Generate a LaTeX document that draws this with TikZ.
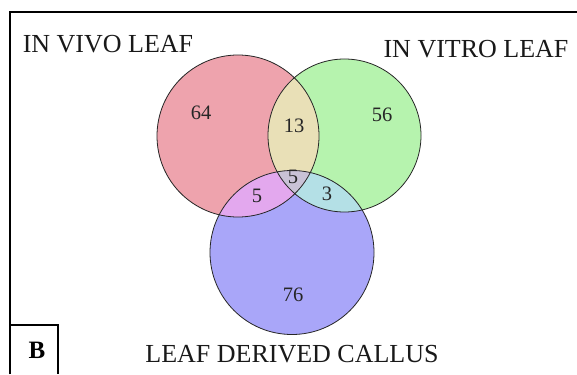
\documentclass[tikz,border=0pt]{standalone}
\usepackage{fontspec}
\setmainfont{Liberation Serif}
\definecolor{cR}{RGB}{238,163,173}
\definecolor{cG}{RGB}{182,243,174}
\definecolor{cB}{RGB}{169,166,249}
\definecolor{cRG}{RGB}{233,224,183}
\definecolor{cRB}{RGB}{227,168,238}
\definecolor{cGB}{RGB}{180,224,230}
\definecolor{cRGB}{RGB}{201,194,214}
\tikzset{
  setlabel/.style={font=\fontsize{26}{30}\selectfont, inner sep=0pt, text=black!90},
  count/.style={font=\fontsize{20.5}{24}\selectfont, inner sep=0pt, text=black!85},
  ring/.style={draw=black!85, line width=0.8pt},
  frame/.style={draw=black, line width=1.4pt}
}
\begin{document}
\begin{tikzpicture}[x=1pt,y=-1pt]
\useasboundingbox (0,0) rectangle (577,374);
\fill[white] (0,0) rectangle (577,374);
\coordinate (R) at (238,136);
\coordinate (G) at (344.5,135.5);
\coordinate (B) at (292,252.5);
\def\rR{81pt}\def\rG{76.5pt}\def\rB{82pt}
\fill[cR] (R) circle[radius=\rR];
\fill[cG] (G) circle[radius=\rG];
\fill[cB] (B) circle[radius=\rB];
\begin{scope}
  \clip (G) circle[radius=\rG];
  \fill[cGB] (B) circle[radius=\rB];
\end{scope}
\begin{scope}
  \clip (R) circle[radius=\rR];
  \fill[cRG] (G) circle[radius=\rG];
  \fill[cRB] (B) circle[radius=\rB];
  \clip (G) circle[radius=\rG];
  \fill[cRGB] (B) circle[radius=\rB];
\end{scope}
\draw[ring] (R) circle[radius=\rR];
\draw[ring] (G) circle[radius=\rG];
\draw[ring] (B) circle[radius=\rB];
% frame
\draw[frame] (10,374) -- (10,12) -- (577,12);
\draw[frame] (10,374) -- (10,325) -- (58,325) -- (58,374);
\node[font=\fontsize{25}{28}\selectfont\bfseries, inner sep=0pt] (lb) at (37,350) {B};
% labels
\node[setlabel] (l1) at (108,44) {IN VIVO LEAF};
\node[setlabel] (l2) at (476,49) {IN VITRO LEAF};
\node[setlabel] (l3) at (292,354) {LEAF DERIVED CALLUS};
% counts
\node[count] (n64) at (201,113) {64};
\node[count] (n13) at (294,126) {13};
\node[count] (n56) at (382,115) {56};
\node[count] (n5c) at (293,177) {5};
\node[count] (n5l) at (257,196) {5};
\node[count] (n3) at (327,194) {3};
\node[count] (n76) at (293,295) {76};
\end{tikzpicture}
\end{document}
